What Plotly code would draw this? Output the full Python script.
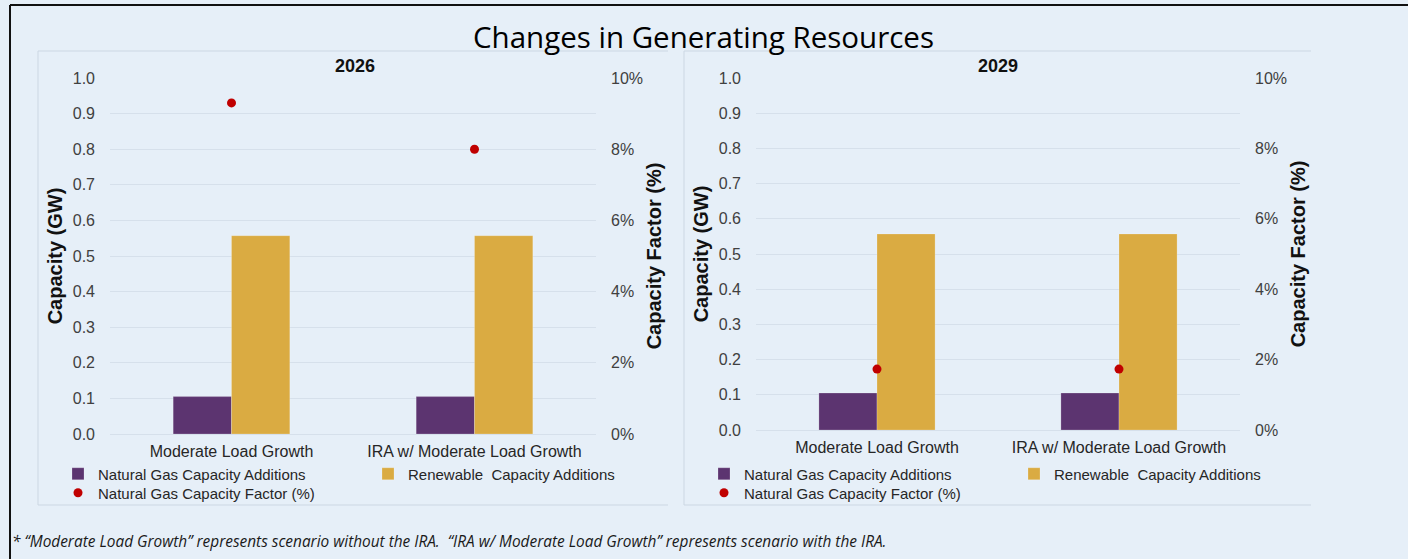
import plotly.graph_objects as go

# ---------------- data ----------------
categories = ["Moderate Load Growth", "IRA w/ Moderate Load Growth"]
years = ["2026", "2029"]
ng_additions_2026 = [0.105, 0.105]
renewable_additions_2026 = [0.557, 0.557]
ng_capacity_factor_2026 = [0.093, 0.080]
ng_additions_2029 = [0.105, 0.105]
renewable_additions_2029 = [0.557, 0.557]
ng_capacity_factor_2029 = [0.0173, 0.0173]
y_left_ticks = [0.0, 0.1, 0.2, 0.3, 0.4, 0.5, 0.6, 0.7, 0.8, 0.9, 1.0]
y_right_ticks = [0.0, 0.02, 0.04, 0.06, 0.08, 0.10]

series_names = ["Natural Gas Capacity Additions",
                "Renewable\u00a0 Capacity Additions",
                "Natural Gas Capacity Factor (%)"]

# ---------------- style ----------------
W, H = 1408, 559
BG = "#e6eff8"
GRID = "#d6e0eb"
PURPLE = "#5c3470"
GOLD = "#daab42"
RED = "#c00000"
PANEL_LINE = "#ccd7e3"
TICK_COLOR = "#404040"
ARIAL = "Liberation Sans, Arial, sans-serif"
CAL = "Open Sans, Calibri, sans-serif"


def px_x(x):
    return x / W


def px_y(y):
    return 1 - y / H


fig = go.Figure()

panels = [
    dict(ng=ng_additions_2026, ren=renewable_additions_2026, cf=ng_capacity_factor_2026,
         xa="x", ya="y", ya2="y2", legs=("legend", "legend2", "legend3")),
    dict(ng=ng_additions_2029, ren=renewable_additions_2029, cf=ng_capacity_factor_2029,
         xa="x2", ya="y3", ya2="y4", legs=("legend4", "legend5", "legend6")),
]

for p in panels:
    fig.add_trace(go.Bar(x=categories, y=p["ng"], name=series_names[0],
                         marker=dict(color=PURPLE, line=dict(color="rgba(255,255,255,0.35)", width=0.6)),
                         xaxis=p["xa"], yaxis=p["ya"], legend=p["legs"][0], offsetgroup="ng"))
    fig.add_trace(go.Bar(x=categories, y=p["ren"], name=series_names[1],
                         marker=dict(color=GOLD, line=dict(color="rgba(255,255,255,0.35)", width=0.6)),
                         xaxis=p["xa"], yaxis=p["ya"], legend=p["legs"][1], offsetgroup="ren"))
    fig.add_trace(go.Scatter(x=categories, y=p["cf"], name=series_names[2], mode="markers",
                             marker=dict(color=RED, size=9),
                             xaxis=p["xa"], yaxis=p["ya2"], legend=p["legs"][2]))

tickfont = dict(family=ARIAL, size=16, color=TICK_COLOR)
titlefont = dict(family=ARIAL, size=20, color="#111111", weight="bold")


def xaxis_cfg(x0, x1, anchor):
    return dict(domain=[px_x(x0), px_x(x1)], anchor=anchor, type="category",
                showgrid=False, showline=False, zeroline=False, ticks="",
                tickfont=dict(family=ARIAL, size=16, color="#262626"),
                ticklabelstandoff=6, fixedrange=True)


def yleft_cfg(y_bottom, y_top, anchor):
    return dict(domain=[px_y(y_bottom), px_y(y_top)], anchor=anchor, range=[0, 1.0],
                tickvals=y_left_ticks, tickformat=".1f", showgrid=True, gridcolor=GRID,
                gridwidth=1.2, zeroline=True, zerolinecolor=GRID, zerolinewidth=1.2,
                showline=False, ticks="", tickfont=tickfont, ticklabelstandoff=14,
                title=dict(text="Capacity (GW)", font=titlefont, standoff=4))


def yright_cfg(overlay, anchor):
    return dict(overlaying=overlay, side="right", anchor=anchor, range=[0, 0.10],
                tickvals=y_right_ticks, tickformat=".0%", showgrid=False, zeroline=False,
                showline=False, ticks="", tickfont=tickfont, ticklabelstandoff=14,
                title=dict(text="Capacity Factor (%)", font=titlefont, standoff=4))


fig.update_layout(
    xaxis=xaxis_cfg(110, 596, "y"),
    yaxis=yleft_cfg(434, 78, "x"),
    yaxis2=yright_cfg("y", "x"),
    xaxis2=xaxis_cfg(756, 1240, "y3"),
    yaxis3=yleft_cfg(430, 78, "x2"),
    yaxis4=yright_cfg("y3", "x2"),
)

legend_font = dict(family=ARIAL, size=15, color="#262626")


def leg(x, y):
    return dict(x=px_x(x), y=px_y(y), xanchor="left", yanchor="middle",
                bgcolor="rgba(0,0,0,0)", font=legend_font, orientation="h",
                itemclick=False, itemdoubleclick=False)


fig.update_layout(
    legend=leg(58, 474), legend2=leg(368, 474), legend3=leg(58, 493),
    legend4=leg(704, 474), legend5=leg(1014, 474), legend6=leg(704, 493),
)

annotations = [
    dict(text="Changes in Generating Resources", x=px_x(703), y=px_y(37), xref="paper", yref="paper",
         showarrow=False, xanchor="center", yanchor="middle",
         font=dict(family=CAL, size=29.5, color="#000000")),
    dict(text=years[0], x=px_x(355), y=px_y(66), xref="paper", yref="paper", showarrow=False,
         xanchor="center", yanchor="middle",
         font=dict(family=ARIAL, size=18, color="#111111", weight="bold")),
    dict(text=years[1], x=px_x(998), y=px_y(66), xref="paper", yref="paper", showarrow=False,
         xanchor="center", yanchor="middle",
         font=dict(family=ARIAL, size=18, color="#111111", weight="bold")),
    dict(text="* \u201cModerate Load Growth\u201d represents scenario without the IRA.\u00a0 \u201cIRA w/ Moderate Load Growth\u201d represents scenario with the IRA.",
         x=px_x(10), y=px_y(541), xref="paper", yref="paper", showarrow=False,
         xanchor="left", yanchor="middle",
         font=dict(family=CAL, size=15.4, color="#1a1a1a", style="italic")),
]

shapes = []
# panel borders (left, top, bottom edges)
for (x0, x1) in [(38, 668), (684, 1311)]:
    shapes.append(dict(type="line", xref="paper", yref="paper", x0=px_x(x0), x1=px_x(x1),
                       y0=px_y(51), y1=px_y(51), line=dict(color=PANEL_LINE, width=1), layer="below"))
    shapes.append(dict(type="line", xref="paper", yref="paper", x0=px_x(x0), x1=px_x(x1),
                       y0=px_y(505), y1=px_y(505), line=dict(color=PANEL_LINE, width=1), layer="below"))
    shapes.append(dict(type="line", xref="paper", yref="paper", x0=px_x(x0), x1=px_x(x0),
                       y0=px_y(51), y1=px_y(505), line=dict(color=PANEL_LINE, width=1), layer="below"))
# outer black frame
shapes.append(dict(type="line", xref="paper", yref="paper", x0=px_x(10), x1=1.0,
                   y0=px_y(5), y1=px_y(5), line=dict(color="#111111", width=2)))
shapes.append(dict(type="line", xref="paper", yref="paper", x0=px_x(10), x1=px_x(10),
                   y0=px_y(5), y1=0, line=dict(color="#111111", width=2)))

fig.update_layout(
    width=W, height=H, autosize=False,
    margin=dict(l=0, r=0, t=0, b=0, pad=0, autoexpand=False),
    paper_bgcolor=BG, plot_bgcolor=BG,
    barmode="group", bargap=0.52, bargroupgap=0,
    showlegend=True,
    annotations=annotations, shapes=shapes,
    font=dict(family=ARIAL),
)

fig.write_html("out.html", config={"displayModeBar": False},
               post_script="document.body.style.margin='0px';document.body.style.overflow='hidden';")
